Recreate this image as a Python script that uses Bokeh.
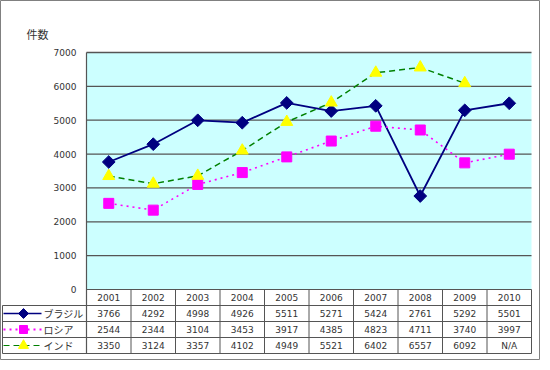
import math
from bokeh.plotting import figure
from bokeh.models import Range1d
from bokeh.core.properties import value
from bokeh.embed import file_html
from bokeh.resources import INLINE

# ---- data ----
years = ["2001", "2002", "2003", "2004", "2005", "2006", "2007", "2008", "2009", "2010"]
brazil = [3766, 4292, 4998, 4926, 5511, 5271, 5424, 2761, 5292, 5501]
russia = [2544, 2344, 3104, 3453, 3917, 4385, 4823, 4711, 3740, 3997]
india = [3350, 3124, 3357, 4102, 4949, 5521, 6402, 6557, 6092, float("nan")]
series_names = ["ブラジル", "ロシア", "インド"]
y_ticks = [0, 1000, 2000, 3000, 4000, 5000, 6000, 7000]
y_title = "件数"

# ---- layout (pixels) ----
W, H = 540, 360
PLOT_L, PLOT_R = 86, 531
PLOT_T, PLOT_B = 52, 289
ROW_H = 16
LEG_L = 2
YMAX = 7000
n = len(years)

ux = (PLOT_R - PLOT_L) / n
uy = (PLOT_B - PLOT_T) / YMAX
x0 = -PLOT_L / ux
x1 = x0 + W / ux
y1 = YMAX + PLOT_T / uy
y0 = y1 - H / uy

def px_x(px):
    return x0 + px / ux

def rows_y(k):
    return -k * ROW_H / uy

FONT = value("Noto Sans CJK JP")
NUMFONT = value("DejaVu Sans")
TXT = "#333333"
GRID = "#555555"
DIAMOND = math.pi / 4

p = figure(width=W, height=H, output_backend="svg", toolbar_location=None,
           x_range=Range1d(x0, x1), y_range=Range1d(y0, y1),
           min_border=0, min_border_left=0, min_border_right=0,
           min_border_top=0, min_border_bottom=0)
p.axis.visible = False
p.grid.visible = False
p.outline_line_color = "#808080"
p.outline_line_width = 1
p.background_fill_color = "white"
p.border_fill_color = "white"

# plot area background
p.quad(left=[0], right=[n], bottom=[0], top=[YMAX], fill_color="#CCFFFF", line_color=None)

# gridlines
gt = [t for t in y_ticks if t > 0]
p.segment(x0=[0] * len(gt), x1=[n] * len(gt), y0=gt, y1=gt, line_color=GRID, line_width=1.3)

# y axis line
p.segment(x0=[0], x1=[0], y0=[rows_y(4)], y1=[YMAX], line_color=GRID, line_width=1.2)

# y tick labels
p.text(x=[0] * len(y_ticks), y=y_ticks, text=[str(t) for t in y_ticks], x_offset=-10,
       text_align="right", text_baseline="middle", text_font=NUMFONT, text_font_size="9px",
       text_color=TXT)

# y title
p.text(x=[px_x(26)], y=[y1 - 33 / uy], text=[y_title], text_align="left", text_baseline="middle",
       text_font=FONT, text_font_size="11px", text_color=TXT)

xs = [i + 0.5 for i in range(n)]

# series
p.line(xs, brazil, line_color="#000080", line_width=1.8)
p.scatter(xs, brazil, marker="square", angle=DIAMOND, size=9, fill_color="#000080", line_color="#000080")
p.line(xs, russia, line_color="#FF00FF", line_width=1.6, line_dash="2 4")
p.scatter(xs, russia, marker="square", size=10, fill_color="#FF00FF", line_color="#FF00FF")
p.line(xs, india, line_color="#008000", line_width=1.5, line_dash="6 4")
p.scatter(xs, india, marker="triangle", size=12, fill_color="#FFFF00", line_color="#FFFF00")

# ---- data table ----
leg_x = px_x(LEG_L)
p.segment(x0=[0], x1=[n], y0=[0], y1=[0], line_color=GRID, line_width=1.2)
hy = [rows_y(k) for k in (1, 2, 3, 4)]
p.segment(x0=[leg_x] * 4, x1=[n] * 4, y0=hy, y1=hy, line_color=GRID, line_width=1)
vx = list(range(1, n + 1))
p.segment(x0=vx, x1=vx, y0=[rows_y(4)] * len(vx), y1=[0] * len(vx), line_color=GRID, line_width=1)
p.segment(x0=[leg_x], x1=[leg_x], y0=[rows_y(4)], y1=[rows_y(1)], line_color=GRID, line_width=1)

# header
p.text(x=xs, y=[rows_y(0.5)] * n, text=years, text_align="center", text_baseline="middle",
       text_font=NUMFONT, text_font_size="9px", text_color=TXT)

def fmt(v):
    return "N/A" if isinstance(v, float) and math.isnan(v) else str(int(v))

for r, vals in enumerate([brazil, russia, india]):
    p.text(x=xs, y=[rows_y(r + 1.5)] * n, text=[fmt(v) for v in vals], text_align="center",
           text_baseline="middle", text_font=NUMFONT, text_font_size="9px", text_color=TXT)

# legend keys in table
lx0, lx1, lm, lt = px_x(LEG_L + 1), px_x(41), px_x(23), px_x(43)
styles = [
    dict(color="#000080", dash="solid", marker="square", angle=DIAMOND, size=7, fill="#000080", w=1.5),
    dict(color="#FF00FF", dash="2 4", marker="square", angle=0, size=8, fill="#FF00FF", w=1.8),
    dict(color="#008000", dash="6 4", marker="triangle", angle=0, size=10, fill="#FFFF00", w=1.2),
]
for r, st in enumerate(styles):
    yy = rows_y(r + 1.5)
    p.line([lx0, lx1], [yy, yy], line_color=st["color"], line_width=st["w"], line_dash=st["dash"])
    p.scatter([lm], [yy], marker=st["marker"], angle=st["angle"], size=st["size"],
              fill_color=st["fill"], line_color=st["fill"])
    p.text(x=[lt], y=[yy], text=[series_names[r]], text_align="left", text_baseline="middle",
           text_font=FONT, text_font_size="10px", text_color=TXT)

open("out.html", "w").write(file_html(p, INLINE))
